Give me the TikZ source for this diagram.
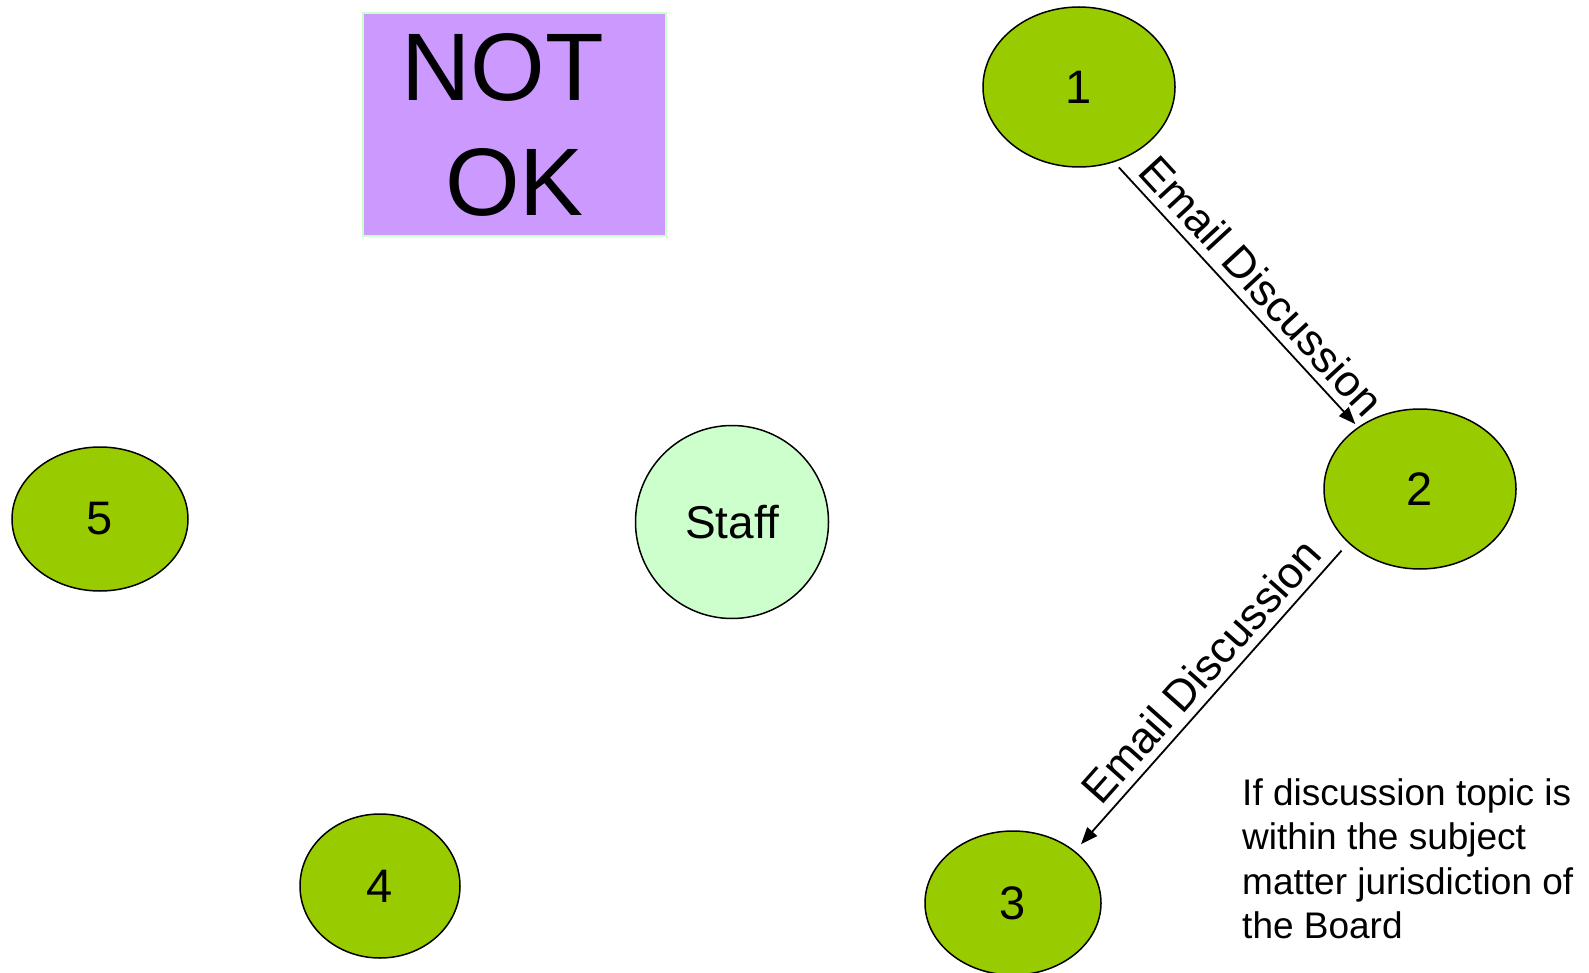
\documentclass[tikz,border=0pt]{standalone}
\usepackage{fontspec}
\setmainfont{Liberation Sans}
\usetikzlibrary{shapes.geometric,arrows.meta}

\definecolor{memgreen}{HTML}{99CC00}
\definecolor{staffgreen}{HTML}{CCFFCC}
\definecolor{notokpurple}{HTML}{CC99FF}

\begin{document}
\begin{tikzpicture}[x=1pt,y=-1pt,
    member/.style={ellipse,draw=black,line width=1.5pt,fill=memgreen,inner sep=0pt,font=\fontsize{47}{56}\selectfont},
    mail/.style={line width=1.8pt,-{Triangle[length=17pt,width=13pt]}},
    maillabel/.style={sloped,above,inner sep=8pt,font=\fontsize{44}{53}\selectfont}]
  \useasboundingbox (0,0) rectangle (1589,973);

  \foreach\name/\x/\y/\w/\h in {1/1079/87/96/80, 2/1420/489/96/80, 3/1013/903/88/72, 4/380/886/80/72, 5/100/519/88/72}{
  	\node[member,minimum width=2*\w,minimum height=2*\h] (member\name) at (\x,\y) {\name};
  }

  \node[circle,draw=black,line width=1.5pt,fill=staffgreen,minimum size=193,inner sep=0pt,
        font=\fontsize{46}{55}\selectfont] (staff) at (732,522) {Staff};

  \node[rectangle,draw=staffgreen,line width=1.5pt,fill=notokpurple,minimum width=303,minimum height=223,
        align=center,font=\fontsize{96}{115}\selectfont] (notok) at (514.5,124.5) {NOT\kern24pt\\OK};

  \draw[mail,shorten <=7pt,shorten >=4pt] (member1.-65) -- node[maillabel,pos=0.53] {Email Discussion} (member2.135);
  \draw[mail,shorten <=10pt,shorten >=9pt] (member2.-143) -- node[maillabel,pos=0.47] {Email Discussion} (member3.40);

  \node[anchor=north west,inner sep=0pt,align=left,font=\fontsize{37}{44.5}\selectfont] (note) at (1242,778)
    {If discussion topic is\\within the subject\\matter jurisdiction of\\the Board};
\end{tikzpicture}
\end{document}
